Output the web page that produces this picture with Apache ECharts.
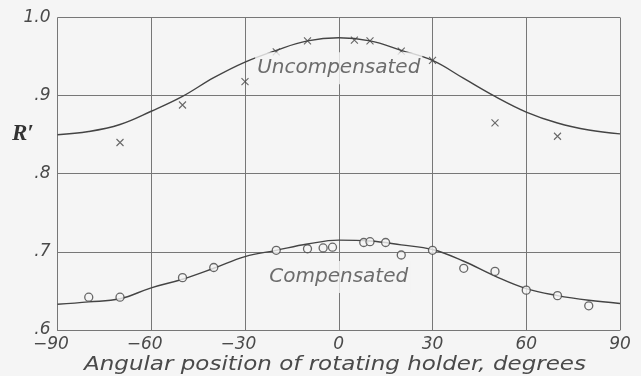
<!DOCTYPE html>
<html>
<head>
<meta charset="utf-8">
<script src="https://cdn.jsdelivr.net/npm/echarts@6/dist/echarts.min.js"></script>
<style>
html,body{margin:0;padding:0;background:#f5f5f5;}
#c{width:641px;height:376px;}
</style>
</head>
<body>
<div id="c"></div>
<script>
// ---- data ----
var uncompX = [-70, -50, -30, -20, -10, 5, 10, 20, 30, 50, 70];
var uncompY = [0.840, 0.888, 0.918, 0.956, 0.970, 0.971, 0.970, 0.957, 0.945, 0.865, 0.848];

var compX = [-80, -70, -50, -40, -20, -10, -5, -2, 8, 10, 15, 20, 30, 40, 50, 60, 70, 80];
var compY = [0.642, 0.642, 0.667, 0.680, 0.702, 0.704, 0.705, 0.706, 0.712, 0.713, 0.712, 0.696, 0.702, 0.679, 0.675, 0.651, 0.644, 0.631];

var curveX = [-90, -80, -70, -60, -50, -40, -30, -20, -10, 0, 10, 20, 30, 40, 50, 60, 70, 80, 90];
var uncompCurve = [0.850, 0.854, 0.863, 0.880, 0.899, 0.923, 0.943, 0.958, 0.970, 0.974, 0.970, 0.958, 0.945, 0.922, 0.899, 0.879, 0.865, 0.856, 0.851];
var compCurve = [0.633, 0.636, 0.640, 0.654, 0.665, 0.679, 0.694, 0.702, 0.710, 0.715, 0.714, 0.709, 0.703, 0.688, 0.669, 0.653, 0.644, 0.638, 0.634];

var xTicks = [-90, -60, -30, 0, 30, 60, 90];
var yTickLabels = {'1.0': '1.0', '0.9': '.9', '0.8': '.8', '0.7': '.7', '0.6': '.6'};

var labelNames = ['Uncompensated', 'Compensated'];
var labelX = [0, 0];
var labelY = [0.935, 0.668];

var xTitle = 'Angular position of rotating holder, degrees';
var yTitle = 'R\u2032';

// ---- chart ----
var BG = '#f5f5f5';
var INK = '#444';
var GRID = '#777';
var TXT = '#4a4a4a';
var FONT = 'DejaVu Sans';

function zip(a, b) { return a.map(function (v, i) { return [v, b[i]]; }); }

var chart = echarts.init(document.getElementById('c'));
chart.setOption({
  backgroundColor: BG,
  animation: false,
  grid: { left: 57.5, right: 21, top: 17.5, bottom: 46, containLabel: false },
  xAxis: {
    type: 'value', min: -90, max: 90, interval: 30,
    axisLine: { show: true, lineStyle: { color: GRID, width: 1 } },
    axisTick: { show: false },
    splitLine: { show: true, lineStyle: { color: GRID, width: 1 } },
    axisLabel: {
      margin: 6, color: TXT, fontFamily: FONT, fontStyle: 'italic', fontSize: 17,
      formatter: function (v) {
        return v < 0 ? '{neg|\u2212' + Math.abs(v) + '}' : String(v);
      },
      rich: {
        neg: { color: TXT, fontFamily: FONT, fontStyle: 'italic', fontSize: 17, padding: [0, 13, 0, 0] }
      }
    }
  },
  yAxis: {
    type: 'value', min: 0.6, max: 1.0, interval: 0.1,
    axisLine: { show: true, lineStyle: { color: GRID, width: 1 } },
    axisTick: { show: false },
    splitLine: { show: true, lineStyle: { color: GRID, width: 1 } },
    axisLabel: {
      margin: 7, color: TXT, fontFamily: FONT, fontStyle: 'italic', fontSize: 17,
      formatter: function (v) { var k = v.toFixed(1); return yTickLabels[k] || k; }
    }
  },
  graphic: [
    {
      type: 'text', left: 12, top: 123,
      style: { text: yTitle, fill: '#333', font: 'italic bold 23px "Liberation Serif"' }
    },
    {
      type: 'text', x: 335, y: 355, scaleX: 1.15, originX: 0,
      style: {
        text: xTitle, fill: TXT, font: 'italic 20px "DejaVu Sans"',
        align: 'center', verticalAlign: 'top'
      }
    }
  ],
  series: [
    {
      type: 'line', data: zip(curveX, uncompCurve), smooth: 0.4, symbol: 'none',
      lineStyle: { color: INK, width: 1.4 }, z: 2
    },
    {
      type: 'line', data: zip(curveX, compCurve), smooth: 0.4, symbol: 'none',
      lineStyle: { color: INK, width: 1.4 }, z: 2
    },
    {
      type: 'scatter', data: zip(uncompX, uncompY),
      symbol: 'path://M0 0L10 10M10 0L0 10', symbolSize: 7,
      itemStyle: { color: INK, borderColor: INK, borderWidth: 1.1 }, z: 3
    },
    {
      type: 'scatter', data: zip(compX, compY),
      symbol: 'circle', symbolSize: 8,
      itemStyle: { color: BG, borderColor: INK, borderWidth: 1.3 }, z: 4
    },
    {
      type: 'scatter', symbolSize: 0, z: 5,
      data: labelNames.map(function (n, i) { return { value: [labelX[i], labelY[i]], name: n }; }),
      label: {
        show: true, position: 'inside', formatter: '{b}',
        color: TXT, fontFamily: FONT, fontStyle: 'italic', fontSize: 20,
        backgroundColor: BG, padding: [6, 2]
      }
    }
  ]
});
</script>
</body>
</html>
